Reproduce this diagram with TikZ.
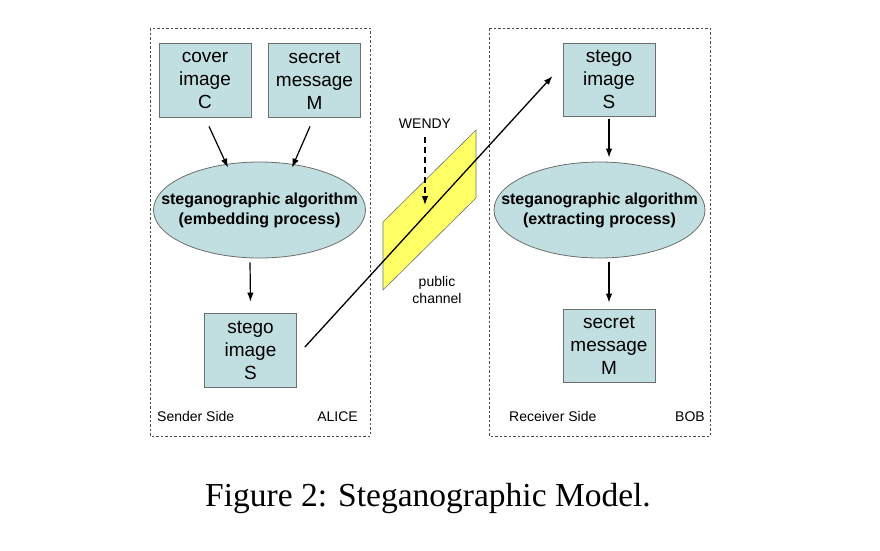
\documentclass[tikz,border=0pt]{standalone}
\usepackage{fontspec}
\setmainfont{Liberation Serif}
\newfontfamily\arial{Liberation Sans}
\usetikzlibrary{arrows.meta,shapes.geometric,calc}
\definecolor{boxfill}{HTML}{C1DEE0}
\definecolor{boxline}{HTML}{6E6E6E}
\definecolor{chanfill}{HTML}{FFFF66}
\tikzset{
  blk/.style={draw=boxline,line width=0.8pt,fill=boxfill,minimum width=92pt,minimum height=74pt,inner sep=0pt,align=center,font=\arial\fontsize{19}{23}\selectfont},
  ell/.style={draw=boxline,line width=0.8pt,fill=boxfill,ellipse,minimum width=212pt,minimum height=96pt,inner xsep=-50pt,inner ysep=0pt,align=center,font=\arial\bfseries\fontsize{16}{20}\selectfont},
  side/.style={draw=black!70,line width=0.7pt,dash pattern=on 2.5pt off 2pt},
  arr/.style={draw=black,line width=1.2pt,-{Latex[length=9pt,width=6.5pt]}},
  lbl/.style={inner sep=0pt,font=\arial\fontsize{14}{17}\selectfont,align=center}
}
\begin{document}
\begin{tikzpicture}[x=1pt,y=-1pt]
\useasboundingbox[fill=white] (0,0) rectangle (880,550);
% side frames
\draw[side] (150,28) rectangle (370,436);
\draw[side] (489,28) rectangle (710,436);
% public channel
\draw[draw=black!55,line width=0.6pt,fill=chanfill] (383,222) -- (476,130) -- (476,198) -- (383,290) -- cycle;
% sender
\node[blk] (cover) at (205,80) {cover\\image\\C};
\node[blk] (secret) at (314.5,80) {secret\\message\\M};
\node[ell] (ellL) at (259.5,210) {steganographic algorithm\\(embedding process)};
\node[blk] (stegoL) at (250.5,350) {stego\\image\\S};
% receiver
\node[blk,minimum height=73pt] (stegoR) at (609,79.5) {stego\\image\\S};
\node[ell,minimum width=211pt] (ellR) at (599.5,210) {steganographic algorithm\\(extracting process)};
\node[blk,minimum height=73pt] (secretR) at (609,345.5) {secret\\message\\M};
% labels
\node[lbl,anchor=base west] (sender) at (157,421) {Sender Side};
\node[lbl,anchor=base east] (alice) at (358,421) {ALICE};
\node[lbl,anchor=base west] (receiver) at (509,421) {Receiver Side};
\node[lbl,anchor=base east] (bob) at (705,421) {BOB};
\node[lbl] (wendy) at (425,124) {WENDY};
\node[lbl] (pub) at (437,290) {public\\channel};
\coordinate (wend) at (425,205);
% arrows
\draw[arr] ([shift={(4pt,-9pt)}]cover.south) -- ([shift={(-31.5pt,-6pt)}]ellL.north);
\draw[arr] ([shift={(-4.5pt,-9pt)}]secret.south) -- ([shift={(32.5pt,-6pt)}]ellL.north);
\draw[arr] ([shift={(-9.5pt,-4pt)}]ellL.south) -- ([shift={(0pt,11pt)}]stegoL.north);
\draw[arr,shorten <=3pt,shorten >=4pt] (stegoR.south) -- (stegoR.south |- ellR.north);
\draw[arr,shorten <=4pt,shorten >=6pt] (ellR.south -| secretR.north) -- (secretR.north);
\draw[arr,dash pattern=on 6pt off 4pt] ([yshift=-8pt]wendy.south) -- (wend);
\draw[arr,line width=1.3pt] ([shift={(8pt,3pt)}]stegoL.east) -- ([shift={(-10pt,3.5pt)}]stegoR.west);
% caption
\node[inner sep=0pt,font=\fontsize{33.5}{40}\selectfont] (cap) at (428,498) {Figure 2: Steganographic Model.};
\end{tikzpicture}
\end{document}
